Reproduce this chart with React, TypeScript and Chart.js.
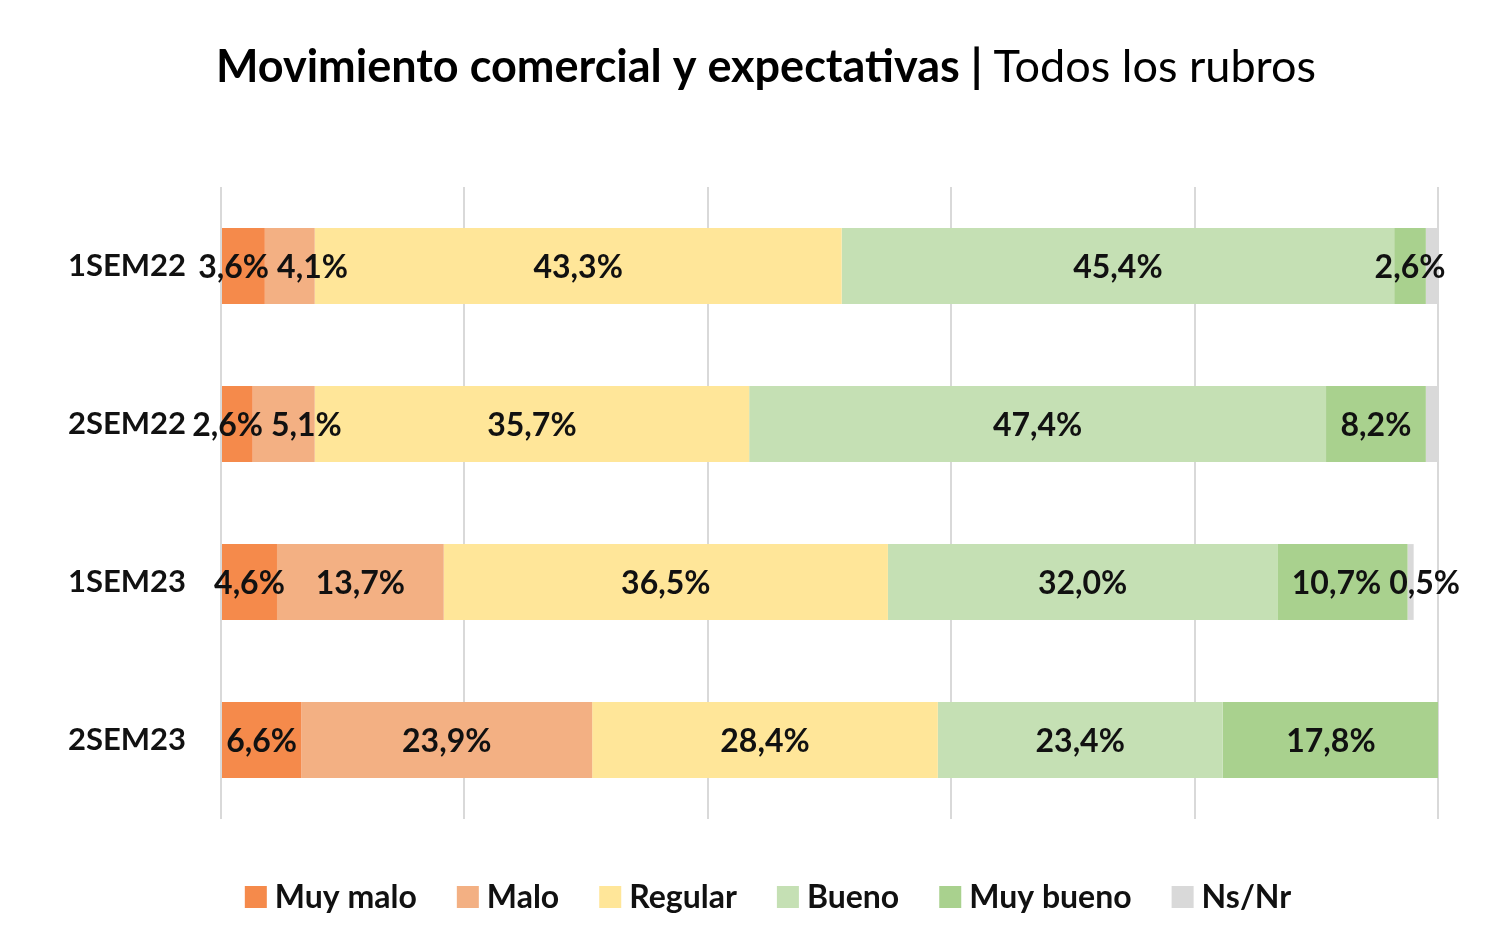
import React, { useEffect, useRef } from "react";
import { Chart, registerables } from "chart.js";

Chart.register(...registerables);

const categories = ["1SEM22", "2SEM22", "1SEM23", "2SEM23"];
const seriesNames = ["Muy malo", "Malo", "Regular", "Bueno", "Muy bueno", "Ns/Nr"];
const muyMalo = [3.6, 2.6, 4.6, 6.6];
const malo = [4.1, 5.1, 13.7, 23.9];
const regular = [43.3, 35.7, 36.5, 28.4];
const bueno = [45.4, 47.4, 32.0, 23.4];
const muyBueno = [2.6, 8.2, 10.7, 17.8];
const nsNr = [1.0, 1.0, 0.5, 0];
const nsNrLabelShown = [false, false, true, false];
const colors = ["#F58A4B", "#F3B083", "#FFE699", "#C5E0B4", "#A9D18E", "#D9D9D9"];
const titleBold = "Movimiento comercial y expectativas";
const titleRegular = "Todos los rubros";

const FONT = "Lato, 'Open Sans', sans-serif";

const fmt = (v: number) => v.toFixed(1).replace(".", ",") + "%";

const titlePlugin = {
  id: "customTitle",
  afterDraw(chart: any) {
    const ctx = chart.ctx;
    ctx.save();
    ctx.textBaseline = "alphabetic";
    ctx.fillStyle = "#000";
    const boldFont = `bold 45px ${FONT}`;
    const regFont = `45px ${FONT}`;
    ctx.font = boldFont;
    const w1 = ctx.measureText(titleBold + " ").width;
    const wBar = ctx.measureText("| ").width;
    ctx.font = regFont;
    const w2 = ctx.measureText(titleRegular).width;
    const total = w1 + wBar + w2;
    let x = 766 - total / 2;
    ctx.textAlign = "left";
    ctx.font = boldFont;
    ctx.fillText(titleBold + " ", x, 82);
    x += w1;
    ctx.fillText("| ", x, 82);
    x += wBar;
    ctx.font = regFont;
    ctx.fillText(titleRegular, x, 82);
    ctx.restore();
  },
};

const legendPlugin = {
  id: "customLegend",
  afterDraw(chart: any) {
    const ctx = chart.ctx;
    ctx.save();
    const font = `bold 32px ${FONT}`;
    ctx.font = font;
    const box = 22;
    const gapBoxText = 8;
    const gapItems = 40;
    const widths = seriesNames.map((n) => ctx.measureText(n).width);
    const total =
      widths.reduce((a, b) => a + b, 0) + seriesNames.length * (box + gapBoxText) + (seriesNames.length - 1) * gapItems;
    let x = 768 - total / 2;
    const cy = 897;
    ctx.textBaseline = "middle";
    ctx.textAlign = "left";
    seriesNames.forEach((n, i) => {
      ctx.fillStyle = colors[i];
      ctx.fillRect(x, cy - box / 2, box, box);
      x += box + gapBoxText;
      ctx.fillStyle = "#111";
      ctx.fillText(n, x, cy + 1);
      x += widths[i] + gapItems;
    });
    ctx.restore();
  },
};

const labelPlugin = {
  id: "stackLabels",
  afterDatasetsDraw(chart: any) {
    const ctx = chart.ctx;
    ctx.save();
    ctx.font = `bold 32px ${FONT}`;
    ctx.fillStyle = "#111";
    ctx.textBaseline = "middle";
    ctx.textAlign = "center";
    const n = chart.data.labels.length;
    for (let row = 0; row < n; row++) {
      const items: { x: number; y: number; w: number; t: string }[] = [];
      chart.data.datasets.forEach((ds: any, di: number) => {
        const v = ds.data[row];
        if (!v) return;
        if (di === 5 && !nsNrLabelShown[row]) return;
        const el = chart.getDatasetMeta(di).data[row];
        const cx = (el.x + el.base) / 2;
        const t = fmt(v);
        items.push({ x: cx, y: el.y, w: ctx.measureText(t).width, t });
      });
      // resolve overlaps: push the earlier label left a bit and the later one right
      const lefts = items.map((it) => it.x - it.w / 2);
      for (let i = 1; i < items.length; i++) {
        const prevRight = lefts[i - 1] + items[i - 1].w;
        const overlap = prevRight + 8 - lefts[i];
        if (overlap > 0) {
          lefts[i - 1] -= overlap * 0.3;
          lefts[i] += overlap * 0.7;
        }
      }
      items.forEach((it, i) => {
        ctx.fillText(it.t, lefts[i] + it.w / 2, it.y + 2);
      });
    }
    ctx.restore();
  },
};

export default function App() {
  const ref = useRef<HTMLCanvasElement>(null);
  useEffect(() => {
    document.body.style.margin = "0";
    const allSeries = [muyMalo, malo, regular, bueno, muyBueno, nsNr];
    const chart = new Chart(ref.current!, {
      type: "bar",
      data: {
        labels: categories,
        datasets: allSeries.map((d, i) => ({
          label: seriesNames[i],
          data: d,
          backgroundColor: colors[i],
          borderWidth: 0,
          barPercentage: 0.5,
          categoryPercentage: 0.96,
        })),
      },
      options: {
        indexAxis: "y",
        responsive: false,
        animation: false,
        layout: { padding: { top: 187, bottom: 132, right: 62, left: 0 } },
        plugins: { legend: { display: false }, title: { display: false }, tooltip: { enabled: false } },
        scales: {
          x: {
            stacked: true,
            min: 0,
            max: 100,
            ticks: { display: false, stepSize: 20 },
            grid: { color: "#D9D9D9", lineWidth: 2, drawTicks: false },
            border: { display: false },
          },
          y: {
            stacked: true,
            grid: { display: false, drawTicks: false },
            border: { display: false },
            ticks: { color: "#111", padding: 35, font: { family: FONT, size: 31, weight: "bold" } },
            afterFit: (scale: any) => {
              scale.width = 221;
            },
          },
        },
      },
      plugins: [titlePlugin, legendPlugin, labelPlugin],
    } as any);
    return () => chart.destroy();
  }, []);
  return <canvas ref={ref} width={1500} height={951} style={{ display: "block" }} />;
}
